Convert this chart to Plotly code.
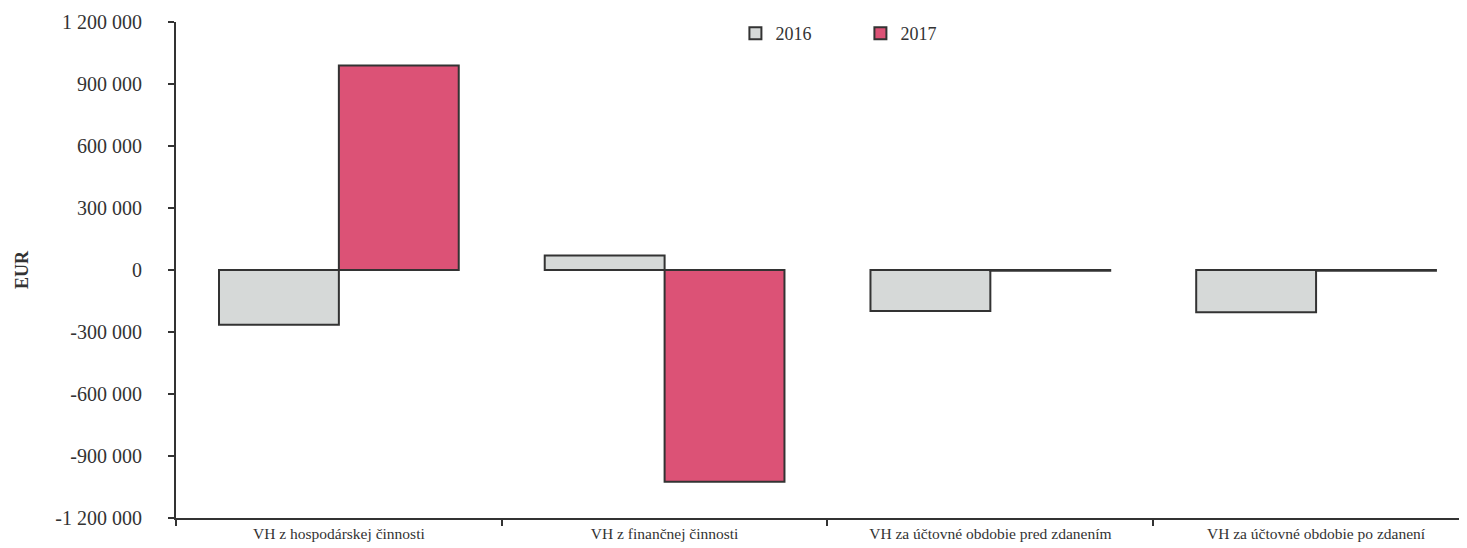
import plotly.graph_objects as go

categories = [
    "VH z hospodárskej činnosti",
    "VH z finančnej činnosti",
    "VH za účtovné obdobie pred zdanením",
    "VH za účtovné obdobie po zdanení",
]
values_2016 = [-265000, 70000, -198000, -205000]
values_2017 = [990000, -1025000, -4000, -4000]
tick_values = [-1200000, -900000, -600000, -300000, 0, 300000, 600000, 900000, 1200000]
tick_labels = ["-1 200 000", "-900 000", "-600 000", "-300 000", "0",
               "300 000", "600 000", "900 000", "1 200 000"]

serif = "Liberation Serif, Times New Roman, serif"
edge = "#333333"
txt = "#333333"

fig = go.Figure()
fig.add_trace(go.Bar(name="2016", x=categories, y=values_2016,
                     marker=dict(color="#d6d9d8", line=dict(color=edge, width=2))))
fig.add_trace(go.Bar(name="2017", x=categories, y=values_2017,
                     marker=dict(color="#dc5276", line=dict(color=edge, width=2))))

fig.update_layout(
    width=1467, height=548,
    margin=dict(l=168, r=13, t=14, b=38, autoexpand=False),
    paper_bgcolor="white", plot_bgcolor="white",
    barmode="group", bargap=0.264, bargroupgap=0,
    font=dict(family=serif, color=txt),
    legend=dict(orientation="h", x=0.435, y=1.014, xanchor="left", yanchor="top",
                font=dict(family=serif, size=18, color=txt),
                bgcolor="rgba(0,0,0,0)", entrywidth=80, entrywidthmode="pixels"),
    showlegend=True,
)
fig.update_yaxes(
    range=[-1200000, 1200000], tickvals=tick_values, ticktext=tick_labels,
    showgrid=False, zeroline=False, showline=True, linecolor="#333333", linewidth=2,
    ticks="outside", ticklen=6, tickcolor="#333333", tickwidth=1.5,
    ticklabelstandoff=22,
    tickfont=dict(family=serif, size=20, color=txt),
    title=dict(text="<b>EUR</b>", font=dict(family=serif, size=18, color=txt), standoff=22),
)
fig.update_xaxes(
    range=[-0.5, 3.448],
    showgrid=False, zeroline=False, showline=True, linecolor="#333333", linewidth=2,
    ticks="outside", ticklen=6, tickcolor="#333333", tickwidth=1.5, tickson="boundaries",
    tickfont=dict(family=serif, size=15.5, color=txt),
)

fig.write_html("out.html")
